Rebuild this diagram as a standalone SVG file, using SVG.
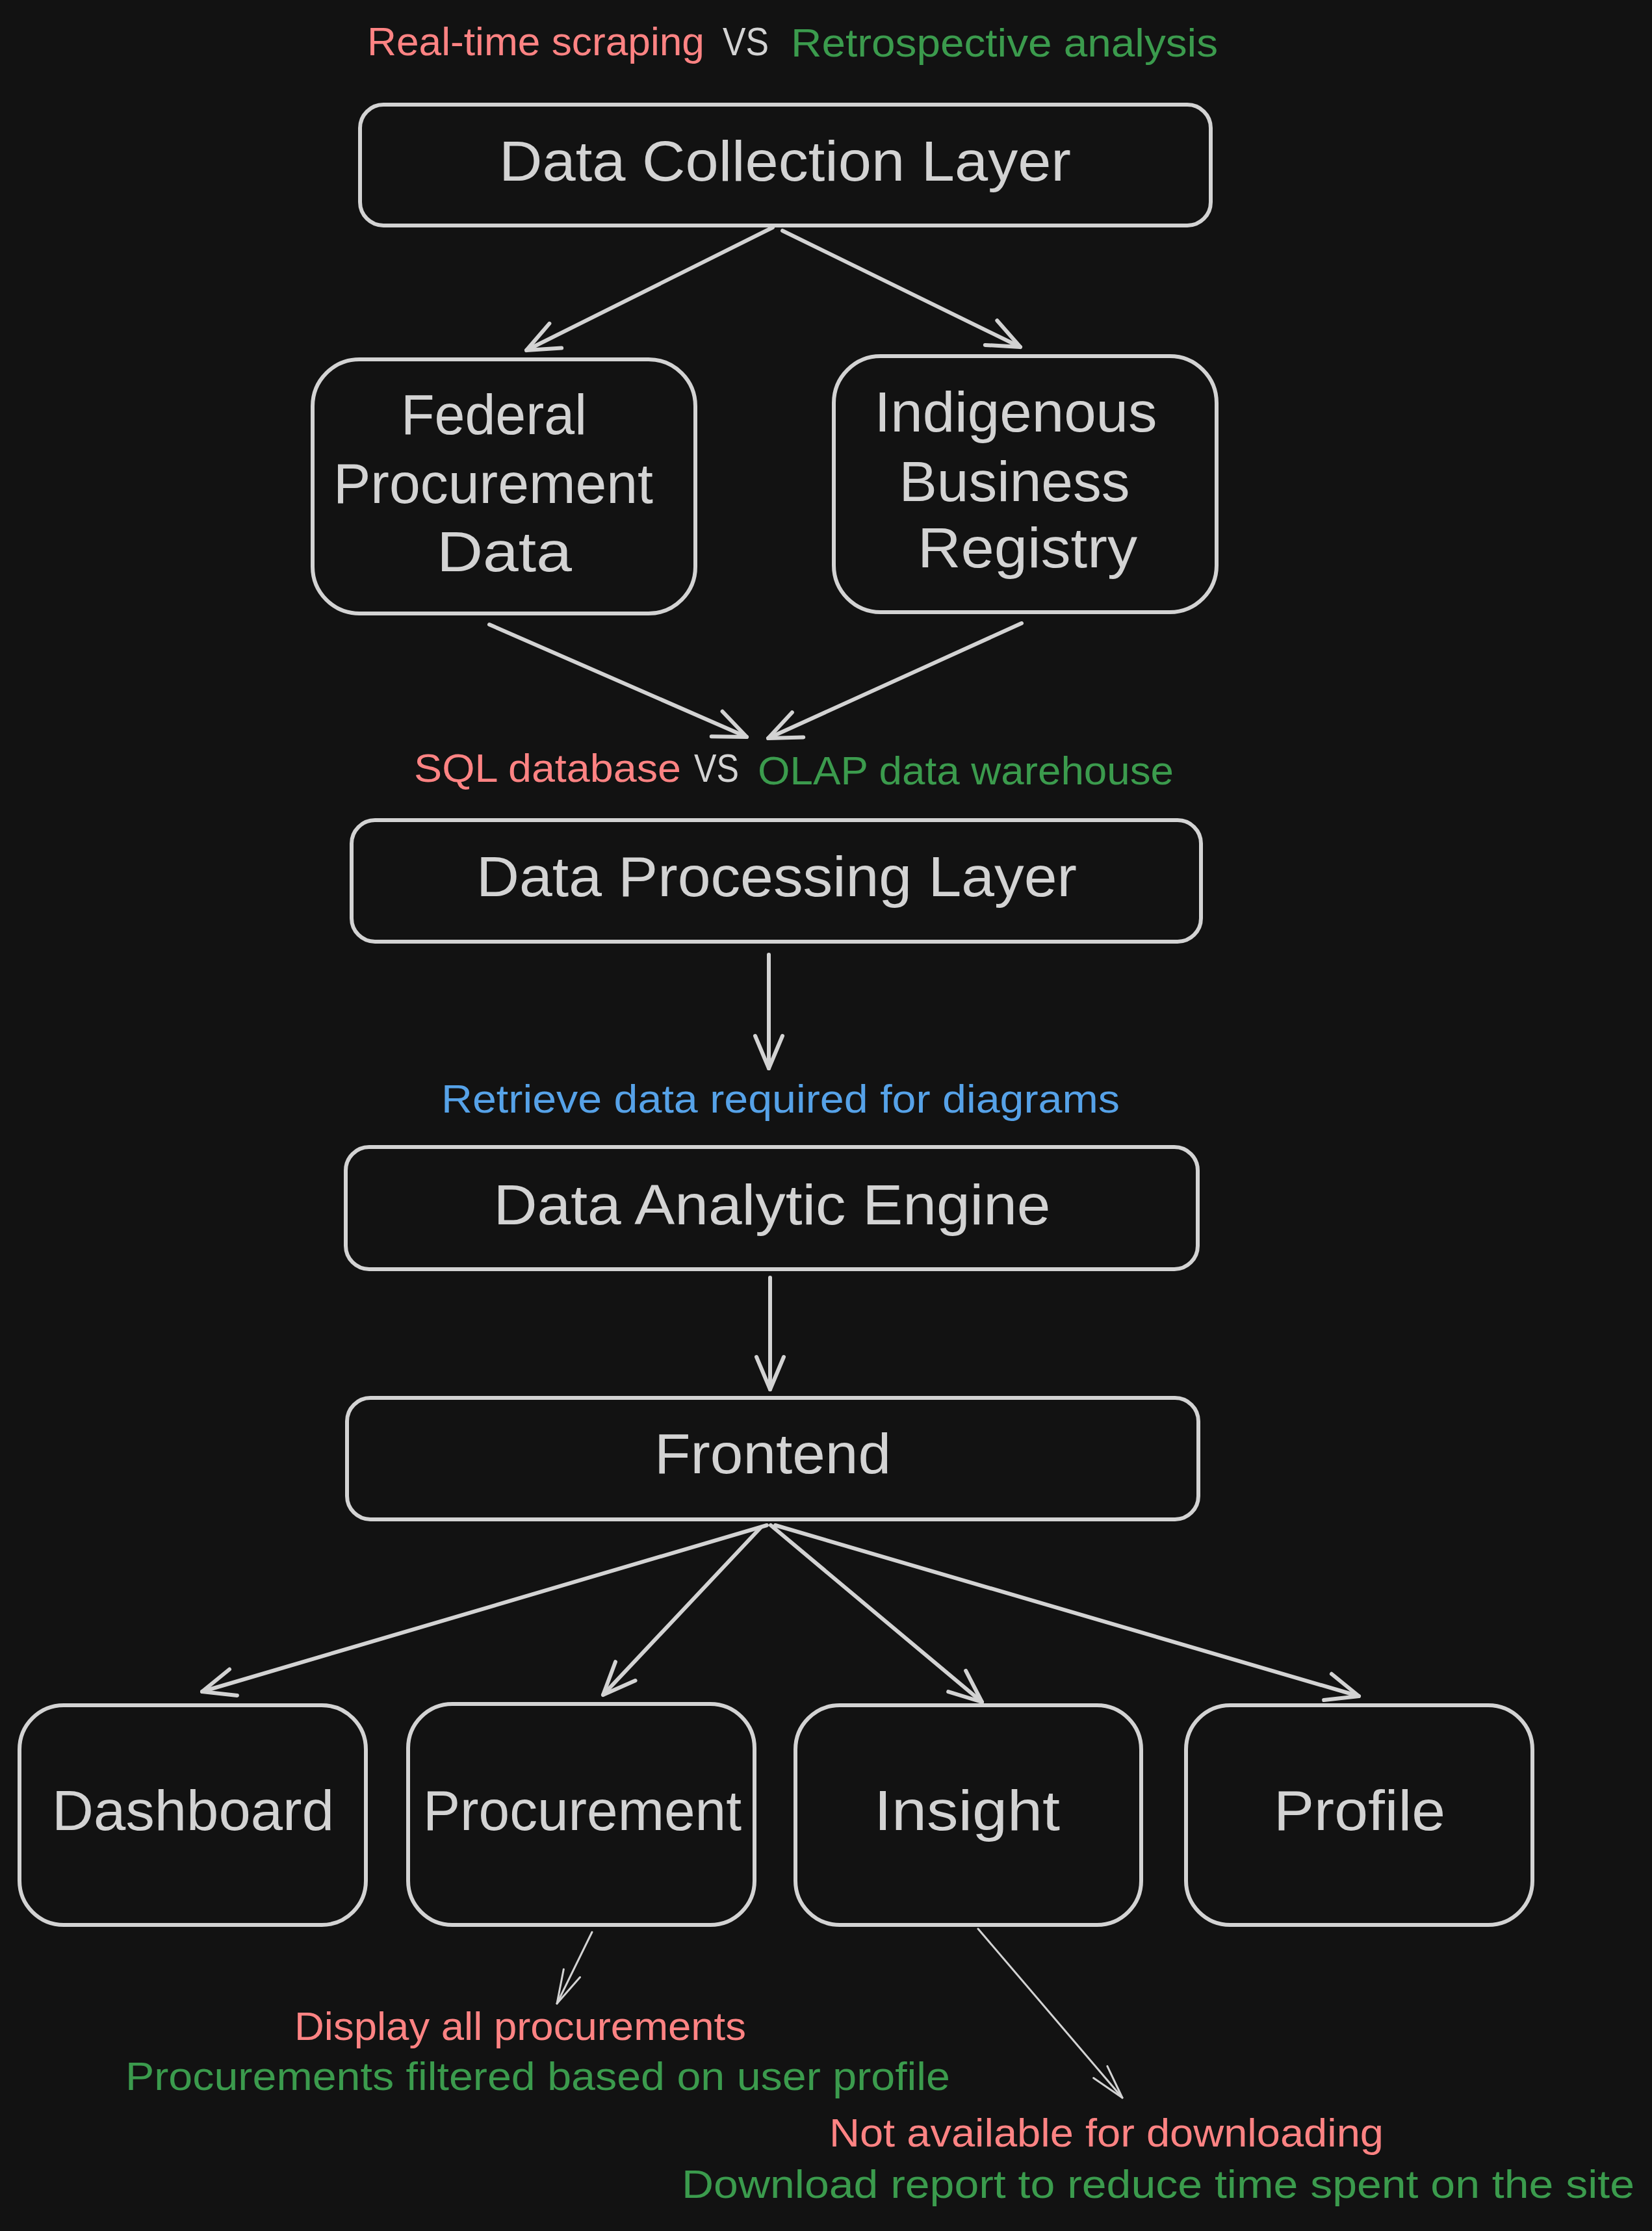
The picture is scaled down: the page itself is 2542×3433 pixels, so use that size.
<svg xmlns="http://www.w3.org/2000/svg" width="2542" height="3433" viewBox="0 0 2542 3433">
  <defs>
    <style>
      .bg { fill: #121212; }
      .box { fill: #121212; stroke: #d3d3d3; stroke-width: 6; }
      .lbl { font-family: "Liberation Sans", Arial, sans-serif; fill: #d3d3d3; font-size: 88px; text-anchor: middle; }
      .note { font-family: "Liberation Sans", Arial, sans-serif; font-size: 62px; }
      .red { fill: #ff8383; }
      .green { fill: #3b9b4d; }
      .blue { fill: #56a2e8; }
      .grey { fill: #d3d3d3; }
      .conn { fill: none; stroke: #d3d3d3; stroke-width: 6; stroke-linecap: round; }
      .thin { fill: none; stroke: #d3d3d3; stroke-width: 3; stroke-linecap: round; }
    </style>
    <marker id="arrow" viewBox="-60 -30 70 60" markerWidth="70" markerHeight="60" refX="0" refY="0" markerUnits="userSpaceOnUse" orient="auto">
      <path d="M -50 -21 L 0 0 L -50 21" fill="none" stroke="#d3d3d3" stroke-width="6" stroke-linecap="round" stroke-linejoin="round"/>
    </marker>
    <marker id="arrowThin" viewBox="-60 -30 70 60" markerWidth="70" markerHeight="60" refX="0" refY="0" markerUnits="userSpaceOnUse" orient="auto">
      <path d="M -52 -14 L 0 0 L -52 14" fill="none" stroke="#d3d3d3" stroke-width="3" stroke-linecap="round" stroke-linejoin="round"/>
    </marker>
  </defs>

  <rect class="bg" x="0" y="0" width="2542" height="3433"/>

  <!-- annotations -->
  <g id="note-collection">
    <text class="note red" x="565" y="85" textLength="519" lengthAdjust="spacingAndGlyphs">Real-time scraping</text>
    <text class="note grey" x="1112" y="85" textLength="71" lengthAdjust="spacingAndGlyphs">VS</text>
    <text class="note green" x="1217" y="87" textLength="657" lengthAdjust="spacingAndGlyphs">Retrospective analysis</text>
  </g>
  <g id="note-processing">
    <text class="note red" x="637" y="1203" textLength="411" lengthAdjust="spacingAndGlyphs">SQL database</text>
    <text class="note grey" x="1068" y="1203" textLength="69" lengthAdjust="spacingAndGlyphs">VS</text>
    <text class="note green" x="1166" y="1207" textLength="640" lengthAdjust="spacingAndGlyphs">OLAP data warehouse</text>
  </g>
  <g id="note-analytic">
    <text class="note blue" x="679" y="1712" textLength="1044" lengthAdjust="spacingAndGlyphs">Retrieve data required for diagrams</text>
  </g>
  <g id="note-procurement">
    <text class="note red" x="453" y="3139" textLength="695" lengthAdjust="spacingAndGlyphs">Display all procurements</text>
    <text class="note green" x="193" y="3216" textLength="1269" lengthAdjust="spacingAndGlyphs">Procurements filtered based on user profile</text>
  </g>
  <g id="note-insight">
    <text class="note red" x="1276" y="3303" textLength="853" lengthAdjust="spacingAndGlyphs">Not available for downloading</text>
    <text class="note green" x="1049" y="3382" textLength="1466" lengthAdjust="spacingAndGlyphs">Download report to reduce time spent on the site</text>
  </g>

  <!-- connectors -->
  <g id="connectors">
    <path class="conn" d="M 1189 350 L 810 539" marker-end="url(#arrow)"/>
    <path class="conn" d="M 1204 355 L 1570 534" marker-end="url(#arrow)"/>
    <path class="conn" d="M 753 961 L 1149 1134" marker-end="url(#arrow)"/>
    <path class="conn" d="M 1572 959 L 1182 1136" marker-end="url(#arrow)"/>
    <path class="conn" d="M 1183 1469 L 1183 1644" marker-end="url(#arrow)"/>
    <path class="conn" d="M 1185 1966 L 1185 2138" marker-end="url(#arrow)"/>
    <path class="conn" d="M 1180 2347 L 311 2603" marker-end="url(#arrow)"/>
    <path class="conn" d="M 1171 2350 L 928 2608" marker-end="url(#arrow)"/>
    <path class="conn" d="M 1186 2347 L 1511 2619" marker-end="url(#arrow)"/>
    <path class="conn" d="M 1193 2347 L 2091 2610" marker-end="url(#arrow)"/>
    <path class="thin" d="M 911 2973 L 857 3083" marker-end="url(#arrowThin)"/>
    <path class="thin" d="M 1505 2968 L 1727 3228" marker-end="url(#arrowThin)"/>
  </g>

  <!-- nodes -->
  <g id="data-collection-layer">
    <rect class="box" x="554" y="161" width="1309" height="186" rx="36"/>
    <text class="lbl" x="1208" y="278" textLength="880" lengthAdjust="spacingAndGlyphs">Data Collection Layer</text>
  </g>
  <g id="federal-procurement-data">
    <rect class="box" x="481" y="553" width="589" height="391" rx="72"/>
    <text class="lbl" x="760" y="668" textLength="286" lengthAdjust="spacingAndGlyphs">Federal</text>
    <text class="lbl" x="759" y="774" textLength="492" lengthAdjust="spacingAndGlyphs">Procurement</text>
    <text class="lbl" x="776" y="879" textLength="208" lengthAdjust="spacingAndGlyphs">Data</text>
  </g>
  <g id="indigenous-business-registry">
    <rect class="box" x="1283" y="548" width="589" height="394" rx="72"/>
    <text class="lbl" x="1563" y="664" textLength="435" lengthAdjust="spacingAndGlyphs">Indigenous</text>
    <text class="lbl" x="1561" y="771" textLength="355" lengthAdjust="spacingAndGlyphs">Business</text>
    <text class="lbl" x="1581" y="873" textLength="338" lengthAdjust="spacingAndGlyphs">Registry</text>
  </g>
  <g id="data-processing-layer">
    <rect class="box" x="541" y="1262" width="1307" height="187" rx="36"/>
    <text class="lbl" x="1195" y="1379" textLength="924" lengthAdjust="spacingAndGlyphs">Data Processing Layer</text>
  </g>
  <g id="data-analytic-engine">
    <rect class="box" x="532" y="1765" width="1311" height="188" rx="36"/>
    <text class="lbl" x="1188" y="1884" textLength="857" lengthAdjust="spacingAndGlyphs">Data Analytic Engine</text>
  </g>
  <g id="frontend">
    <rect class="box" x="534" y="2151" width="1310" height="187" rx="36"/>
    <text class="lbl" x="1189" y="2267" textLength="364" lengthAdjust="spacingAndGlyphs">Frontend</text>
  </g>
  <g id="dashboard">
    <rect class="box" x="30" y="2624" width="533" height="338" rx="68"/>
    <text class="lbl" x="297" y="2816" textLength="434" lengthAdjust="spacingAndGlyphs">Dashboard</text>
  </g>
  <g id="procurement">
    <rect class="box" x="628" y="2622" width="533" height="340" rx="68"/>
    <text class="lbl" x="896" y="2816" textLength="490" lengthAdjust="spacingAndGlyphs">Procurement</text>
  </g>
  <g id="insight">
    <rect class="box" x="1224" y="2624" width="532" height="338" rx="68"/>
    <text class="lbl" x="1488" y="2816" textLength="286" lengthAdjust="spacingAndGlyphs">Insight</text>
  </g>
  <g id="profile">
    <rect class="box" x="1825" y="2624" width="533" height="338" rx="68"/>
    <text class="lbl" x="2092" y="2816" textLength="264" lengthAdjust="spacingAndGlyphs">Profile</text>
  </g>
</svg>
